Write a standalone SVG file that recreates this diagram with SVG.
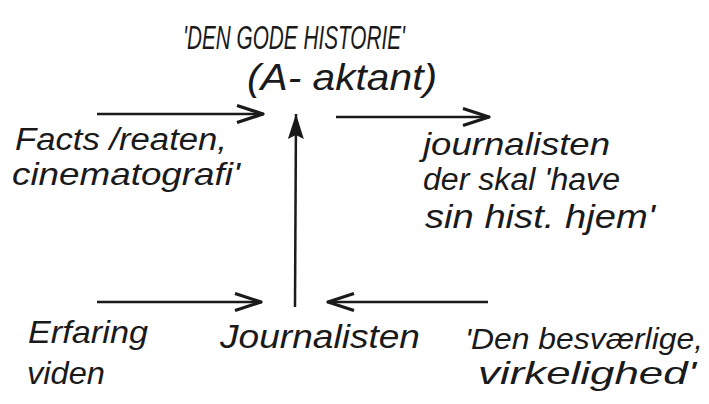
<svg xmlns="http://www.w3.org/2000/svg" width="709" height="404" viewBox="0 0 709 404">
<style>
text{font-family:"Liberation Sans","DejaVu Sans",sans-serif;font-style:italic;fill:#1a1a1a}
.c line{stroke:#1a1a1a;stroke-width:2.5;fill:none}
</style>
<defs>
<marker id="ah" viewBox="0 0 30 20" refX="29" refY="10" markerWidth="30" markerHeight="20" markerUnits="userSpaceOnUse" orient="auto">
<path d="M2,1.5 L28,10 L2,18.5" fill="none" stroke="#1a1a1a" stroke-width="3.2" stroke-linejoin="round"/>
</marker>
<marker id="af" viewBox="0 0 26 20" refX="25" refY="10" markerWidth="26" markerHeight="20" markerUnits="userSpaceOnUse" orient="auto">
<path d="M0,2 L25,10 L0,18 L4,10 Z" fill="#1a1a1a"/>
</marker>
</defs>
<rect width="709" height="404" fill="#fff"/>
<g class="c" id="connectors">
<line x1="97" y1="114" x2="264" y2="114" marker-end="url(#ah)"/>
<line x1="336" y1="117" x2="490" y2="117" marker-end="url(#ah)"/>
<line x1="295" y1="307" x2="296" y2="114" marker-end="url(#af)"/>
<line x1="97" y1="302" x2="262" y2="302" marker-end="url(#ah)"/>
<line x1="488" y1="302" x2="327" y2="302" marker-end="url(#ah)"/>
</g>
<g id="object">
<text x="183" y="49" textLength="222" lengthAdjust="spacingAndGlyphs" font-size="33">'DEN GODE HISTORIE'</text>
<text x="247" y="90" textLength="190" lengthAdjust="spacingAndGlyphs" font-size="36">(A- aktant)</text>
</g>
<g id="sender">
<text x="15" y="150" textLength="212" lengthAdjust="spacingAndGlyphs" font-size="31">Facts /reaten,</text>
<text x="12" y="185" textLength="228" lengthAdjust="spacingAndGlyphs" font-size="32">cinematografi'</text>
</g>
<g id="receiver">
<text x="423" y="155" textLength="187" lengthAdjust="spacingAndGlyphs" font-size="32">journalisten</text>
<text x="423" y="190" textLength="197" lengthAdjust="spacingAndGlyphs" font-size="31">der skal 'have</text>
<text x="425" y="228" textLength="230" lengthAdjust="spacingAndGlyphs" font-size="33">sin hist. hjem'</text>
</g>
<g id="helper">
<text x="28" y="343" textLength="120" lengthAdjust="spacingAndGlyphs" font-size="32">Erfaring</text>
<text x="27" y="384" textLength="78" lengthAdjust="spacingAndGlyphs" font-size="32">viden</text>
</g>
<g id="subject">
<text x="220" y="348" textLength="200" lengthAdjust="spacingAndGlyphs" font-size="34">Journalisten</text>
</g>
<g id="opponent">
<text x="465" y="349" textLength="238" lengthAdjust="spacingAndGlyphs" font-size="30">'Den besværlige,</text>
<text x="478" y="384" textLength="218" lengthAdjust="spacingAndGlyphs" font-size="32">virkelighed'</text>
</g>
</svg>
